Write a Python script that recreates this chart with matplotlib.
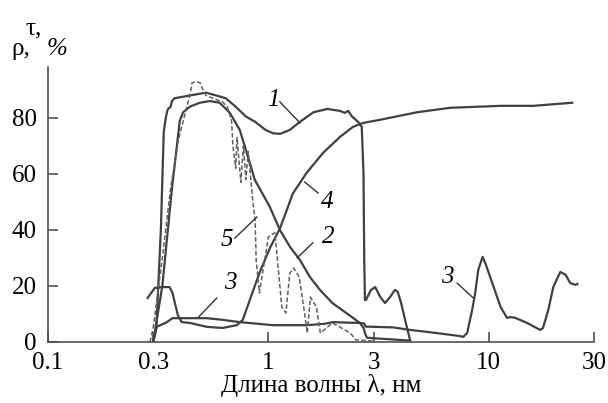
import matplotlib
matplotlib.use("Agg")
import matplotlib.pyplot as plt
from matplotlib import font_manager as fm
from matplotlib.font_manager import FontProperties

# Curve 1
x1 = [0.30, 0.31, 0.325, 0.335, 0.342, 0.349, 0.36, 0.365, 0.375, 0.44, 0.52, 0.58, 0.64, 0.71,
      0.79, 0.87, 0.97, 1.05, 1.13, 1.25, 1.39, 1.6, 1.85, 2.11, 2.22, 2.3, 2.4, 2.55, 2.65,
      2.70, 2.72, 2.74, 2.77, 2.92, 3.05, 3.22, 3.38, 3.56, 3.75, 3.86, 4.0, 4.2, 4.39]
y1 = [0, 5, 40, 75, 80, 83, 84, 86, 87, 88, 89, 88, 87, 84,
      80.5, 78.6, 75.7, 74.5, 74.3, 75.7, 78.6, 82, 83.2, 82.5, 81.8, 82.5, 80.4, 78.6, 76.8,
      60, 30, 15, 15, 18.6, 19.6, 16, 13.9, 16, 18.6, 17.9, 13.9, 6.8, 0.7]

# Curve 2
x2 = [0.30, 0.33, 0.364, 0.396, 0.41, 0.44, 0.488, 0.542, 0.601, 0.668, 0.741, 0.79, 0.867,
      1.015, 1.127, 1.251, 1.389, 1.542, 1.713, 1.95, 2.25, 2.6, 2.7, 2.74, 2.8, 4.39]
y2 = [0, 20, 54, 79, 82, 84, 85.4, 86, 85.4, 81.8, 75.7, 68.6, 57.9,
      48.2, 40, 34, 29.3, 23.2, 18.6, 13.9, 10.4, 6.8, 5, 3.2, 1.5, 0.5]

# Curve 3
x3 = [0.30, 0.311, 0.345, 0.367, 0.44, 0.525, 0.62, 0.74, 1.05, 1.49, 1.8, 1.96, 2.11, 2.6,
      2.72, 2.76, 3.68, 4.39, 5.25, 6.18, 7.41, 7.65, 7.97, 8.4, 8.67, 8.95, 9.37, 9.63, 10.37,
      11.3, 12.1, 12.5, 13.2, 14.9, 17.1, 17.6, 18.6, 19.6, 21.1, 22.3, 23.4, 24.7, 25.2]
y3 = [0, 5.4, 7, 8.5, 8.5, 8.5, 7.9, 7.1, 6, 6, 6.5, 7.1, 7, 6.8,
      6.6, 5.5, 5.2, 4.3, 3.6, 2.9, 2.1, 1.8, 3.2, 11.4, 17.5, 25.7, 30.4, 28.2, 21,
      12.5, 8.6, 8.9, 8.6, 6.8, 4.3, 5, 11.4, 19.6, 25, 24, 21, 20.4, 20.7]

# Curve 4
x4 = [0.283, 0.305, 0.331, 0.356, 0.367, 0.388, 0.404, 0.44, 0.525, 0.62, 0.718, 0.765, 0.823,
      0.914, 1.015, 1.127, 1.21, 1.29, 1.39, 1.49, 1.77, 2.11, 2.42, 2.69, 3.2, 4.72, 6.68,
      11.3, 15.9, 23.9]
y4 = [15.7, 19.3, 19.6, 19.6, 17.5, 9.6, 7.1, 6.8, 5.4, 5, 6, 7.9, 15,
      25, 33.5, 40.5, 47, 53, 56.8, 60.4, 67.5, 73.2, 76.8, 78.2, 79.3, 82, 83.6,
      84.3, 84.3, 85.4]

# Curve 5 (dashed)
x5 = [0.29, 0.30, 0.33, 0.36, 0.39, 0.42, 0.44, 0.45, 0.47, 0.49, 0.50, 0.52, 0.56, 0.62, 0.65,
      0.68, 0.69, 0.71, 0.72, 0.75, 0.77, 0.79, 0.81, 0.85, 0.87, 0.88, 0.91, 0.94, 1.0, 1.07,
      1.15, 1.2, 1.25, 1.3, 1.38, 1.46, 1.5, 1.55, 1.65, 1.72, 1.95, 2.1, 2.35, 2.5, 2.8, 3.0]
y5 = [0, 5, 30, 55, 72, 82, 88, 92.5, 93, 92.5, 90.7, 88, 87, 85.7, 84,
      79, 70, 62, 73, 57, 70, 58, 68, 50, 43.6, 29, 17.5, 24.6, 37.5, 39,
      12.5, 10.4, 24.6, 26.4, 23.2, 10, 3.2, 16, 12.5, 3.2, 6.8, 5.4, 3.2, 0.7, 0.5, 0.3]

xticks = [0.1, 0.3, 1, 3, 10, 30]
xticklabels = ["0.1", "0.3", "1", "3", "10", "30"]
yticks = [0, 20, 40, 60, 80]

FS = 18


def find_file(key):
    for f in fm.findSystemFonts():
        if f.split('/')[-1].lower() == key.lower():
            return f
    return None


reg_file = find_file('LiberationSerif-Regular.ttf')
it_file = find_file('LiberationSerif-Italic.ttf')
if reg_file:
    FP = FontProperties(fname=reg_file, size=FS)
else:
    FP = FontProperties(family='serif', size=FS)
if it_file:
    FPI = FontProperties(fname=it_file, size=FS)
else:
    FPI = FontProperties(family='serif', style='italic', size=FS)

fig = plt.figure(figsize=(6.08, 4.03), dpi=100)
ax = fig.add_axes([0.079, 0.1514, 0.898, 0.6826])

col = '#404040'
lw = 1.6
ax.plot(x1, y1, color=col, lw=lw)
ax.plot(x2, y2, color=col, lw=lw)
ax.plot(x3, y3, color=col, lw=lw)
ax.plot(x4, y4, color=col, lw=lw)
ax.plot(x5, y5, color='#606060', lw=1.1, ls=(0, (3, 1.5)))

ax.set_xscale('log')
ax.set_xlim(0.1, 30)
ax.set_ylim(0, 98.2)
ax.set_xticks(xticks)
ax.set_xticklabels(xticklabels, fontproperties=FP)
ax.minorticks_off()
ax.set_yticks(yticks)
ax.set_yticklabels([str(v) for v in yticks], fontproperties=FP)
for s in ['top', 'right']:
    ax.spines[s].set_visible(False)
for s in ['left', 'bottom']:
    ax.spines[s].set_color('#505050')
    ax.spines[s].set_linewidth(1.2)
ax.tick_params(direction='in', length=7, width=1.2, color='#505050')
ax.tick_params(axis='x', pad=7)
ax.tick_params(axis='y', pad=8)
ax.set_xlabel('Длина волны λ, нм', fontproperties=FP, labelpad=0)

fig.text(0.056, 0.93, 'τ,', fontproperties=FP, ha='center', va='center')
fig.text(0.018, 0.878, 'ρ,', fontproperties=FP, ha='left', va='center')
fig.text(0.077, 0.878, '%', fontproperties=FPI, ha='left', va='center')

lab = dict(fontproperties=FPI, ha='center', va='center')
lc = dict(color='#333333', lw=1.0)
ax.text(1.05, 86.4, '1', **lab)
ax.plot([1.127, 1.39], [85.7, 78.2], **lc)
ax.text(1.84, 50, '4', **lab)
ax.plot([1.68, 1.46], [53.2, 57.1], **lc)
ax.text(1.86, 37.5, '2', **lab)
ax.plot([1.59, 1.35], [35.4, 30], **lc)
ax.text(0.647, 36.4, '5', **lab)
ax.plot([0.704, 0.886], [37.1, 44.6], **lc)
ax.text(0.668, 21.1, '3', **lab)
ax.plot([0.583, 0.478], [15.7, 8.6], **lc)
ax.text(6.47, 23.2, '3', **lab)
ax.plot([7.18, 8.5], [21, 15.7], **lc)

fig.savefig('out.png', dpi=100)
